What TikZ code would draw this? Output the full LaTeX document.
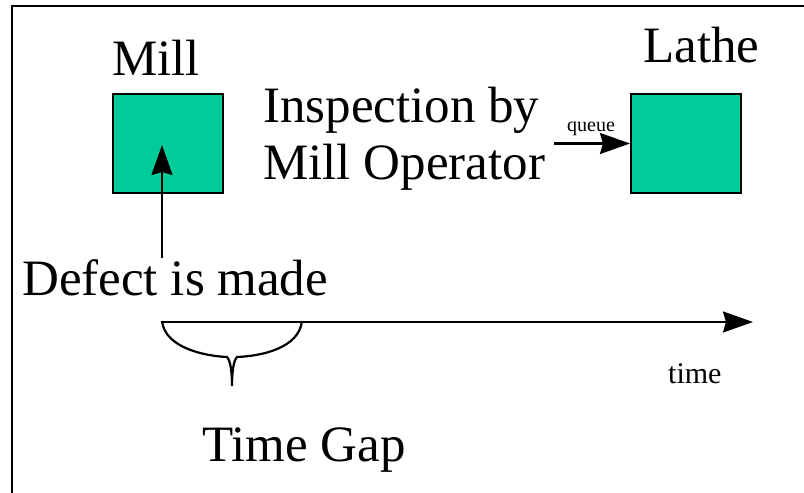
\documentclass[tikz,border=0pt]{standalone}
\usepackage{fontspec}
\setmainfont{Liberation Serif}
\usetikzlibrary{arrows.meta}
\definecolor{machine}{RGB}{0,204,153}
\begin{document}
\begin{tikzpicture}[x=1pt,y=-1pt,
  machinebox/.style={draw=black,line width=2pt,fill=machine,minimum width=110pt,minimum height=99pt,inner sep=0pt},
  lbl/.style={anchor=base west,inner sep=0pt,font=\fontsize{51}{58}\selectfont},
  smalllbl/.style={anchor=base west,inner sep=0pt},
  arr/.style={line width=2.2pt,-{Stealth[length=30pt,width=21pt,inset=3pt]}},
  plain/.style={line width=2.2pt}]
\useasboundingbox (0,0) rectangle (804,493);
\draw[line width=2.5pt] (12,493) -- (12,6) -- (804,6);
% boxes
\node[machinebox] (mill) at (167.5,143.5) {};
\node[machinebox] (lathe) at (686,143.5) {};
% labels
\node[lbl] (milllbl) at (112,75) {Mill};
\node[lbl] (lathelbl) at (643,62) {Lathe};
\node[lbl] (insp1) at (263,122) {Inspection by};
\node[lbl] (insp2) at (263,179) {Mill Operator};
\node[lbl] (defect) at (22,295) {Defect is made};
\node[lbl] (gap) at (202,461) {Time Gap};
\node[smalllbl,font=\fontsize{30}{34}\selectfont] (timelbl) at (668,383) {time};
\node[smalllbl,font=\fontsize{20}{24}\selectfont] (queue) at (567,131) {queue};
% arrows
\coordinate (dstart) at (162,258);
\coordinate (dtip) at (162,145);
\draw[arr] (dstart) -- (dtip);
\coordinate (qstart) at (554,143.5);
\draw[arr] (qstart) -- (lathe.west);
\coordinate (t0) at (162,322);
\coordinate (tend) at (753,322);
\draw[arr] (t0) -- (tend);
% brace
\draw[plain] (162,321) .. controls (165,348) and (205,356) .. (227,357)
  .. controls (231,361) and (232,375) .. (232,386)
  .. controls (232,375) and (233,361) .. (237,357)
  .. controls (262,356) and (299,348) .. (302,321);
\end{tikzpicture}
\end{document}
